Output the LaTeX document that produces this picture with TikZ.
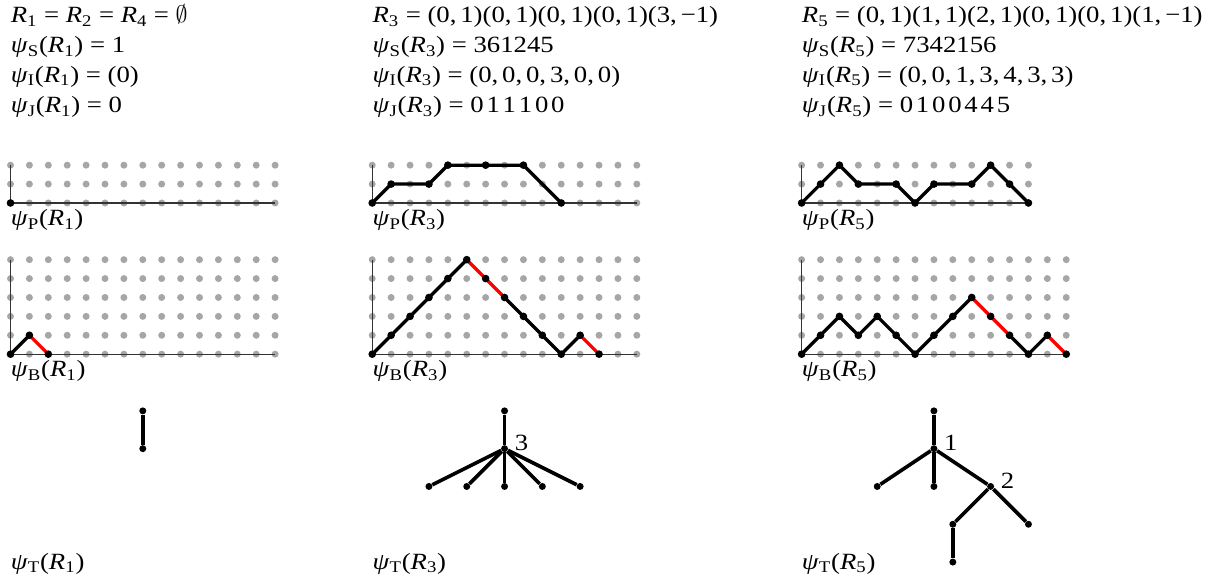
\documentclass[tikz,border=0pt]{standalone}
\usepackage{fontspec}
\setmainfont{Liberation Serif}[FakeStretch=1.15]

\newcommand{\Rw}[1]{\textit{R}\textsubscript{#1}}
\newcommand{\ps}[2]{\textit{ψ}\textsubscript{#1}(\Rw{#2})}
\newcommand{\dg}{\hspace{0.12em}}

\begin{document}
\begin{tikzpicture}[
    x=0.4cm, y=0.4cm,
    font=\fontsize{14}{17}\selectfont,
    txt/.style={anchor=base west, inner sep=0pt},
    axis/.style={line width=0.7pt, black!80},
    walk/.style={line width=2pt, line join=round, line cap=round},
    undo/.style={walk, draw=red},
    tnode/.style={circle, fill=black, minimum size=4.2pt, inner sep=0pt},
    branch/.style={line width=2.2pt},
    tlabel/.style={anchor=base west, inner sep=0pt, xshift=3.7pt, yshift=-1.2pt}
]

\def\cA{0}       % column origins
\def\cB{19.14}
\def\cC{41.86}
\def\rg{2.1pt}   % grey dot radius
\def\rb{2.3pt}   % black dot radius

\useasboundingbox (-0.556, 0.106) rectangle (64.42, 30.74);

% ── Top rows: words and their images ─────────────────────────────────────────
\node[txt] (rA) at (\cA, 29.55) {\Rw{1} = \Rw{2} = \Rw{4} = $\emptyset$};
\node[txt] (sA) at (\cA, 27.96) {\ps{S}{1} = 1};
\node[txt] (iA) at (\cA, 26.38) {\ps{I}{1} = (0)};
\node[txt] (jA) at (\cA, 24.79) {\ps{J}{1} = 0};

\node[txt] (rB) at (\cB, 29.55) {\Rw{3} = (0,\,1)(0,\,1)(0,\,1)(0,\,1)(3,\,−1)};
\node[txt] (sB) at (\cB, 27.96) {\ps{S}{3} = 361245};
\node[txt] (iB) at (\cB, 26.38) {\ps{I}{3} = (0,\,0,\,0,\,3,\,0,\,0)};
\node[txt] (jB) at (\cB, 24.79) {\ps{J}{3} = 0\dg1\dg1\dg1\dg0\dg0};

\node[txt] (rC) at (\cC, 29.55) {\Rw{5} = (0,\,1)(1,\,1)(2,\,1)(0,\,1)(0,\,1)(1,\,−1)};
\node[txt] (sC) at (\cC, 27.96) {\ps{S}{5} = 7342156};
\node[txt] (iC) at (\cC, 26.38) {\ps{I}{5} = (0,\,0,\,1,\,3,\,4,\,3,\,3)};
\node[txt] (jC) at (\cC, 24.79) {\ps{J}{5} = 0\dg1\dg0\dg0\dg4\dg4\dg5};

% ── Dot grids with axes ──────────────────────────────────────────────────────
\foreach \c/\w/\h/\yb in {\cA/14/2/20, \cB/14/2/20, \cC/12/2/20,
                          \cA/14/5/12, \cB/14/5/12, \cC/14/5/12} {
    \foreach \i in {0,...,\w}
        \foreach \j in {0,...,\h}
            \fill[black!35] (\c+\i, \yb+\j) circle (\rg);
    \draw[axis] (\c, \yb+\h) -- (\c, \yb) -- (\c+\w, \yb);
}

% ── psi_P paths ──────────────────────────────────────────────────────────────
\fill (\cA, 20) circle (\rb);

\begin{scope}[shift={(\cB,20)}]
    \draw[walk] (0,0) -- (1,1) -- (3,1) -- (4,2) -- (8,2) -- (10,0);
    \foreach \x/\y in {0/0, 1/1, 3/1, 4/2, 6/2, 8/2, 10/0}
        \fill (\x,\y) circle (\rb);
\end{scope}

\begin{scope}[shift={(\cC,20)}]
    \draw[walk] (0,0) -- (2,2) -- (3,1) -- (5,1) -- (6,0) -- (7,1) -- (9,1) -- (10,2) -- (12,0);
    \foreach \x/\y in {0/0, 1/1, 2/2, 3/1, 5/1, 6/0, 7/1, 9/1, 10/2, 11/1, 12/0}
        \fill (\x,\y) circle (\rb);
\end{scope}

% ── psi_B paths (red = down steps marked) ────────────────────────────────────
\begin{scope}[shift={(\cA,12)}]
    \draw[walk] (0,0) -- (1,1);
    \draw[undo] (1,1) -- (2,0);
    \foreach \x/\y in {0/0, 1/1, 2/0}
        \fill (\x,\y) circle (\rb);
\end{scope}

\begin{scope}[shift={(\cB,12)}]
    \draw[walk] (0,0) -- (5,5);
    \draw[undo] (5,5) -- (7,3);
    \draw[walk] (7,3) -- (10,0) -- (11,1);
    \draw[undo] (11,1) -- (12,0);
    \foreach \y [count=\x from 0] in {0,1,2,3,4,5,4,3,2,1,0,1,0}
        \fill (\x,\y) circle (\rb);
\end{scope}

\begin{scope}[shift={(\cC,12)}]
    \draw[walk] (0,0) -- (2,2) -- (3,1) -- (4,2) -- (6,0) -- (9,3);
    \draw[undo] (9,3) -- (11,1);
    \draw[walk] (11,1) -- (12,0) -- (13,1);
    \draw[undo] (13,1) -- (14,0);
    \foreach \y [count=\x from 0] in {0,1,2,1,2,1,0,1,2,3,2,1,0,1,0}
        \fill (\x,\y) circle (\rb);
\end{scope}

% ── Path labels ──────────────────────────────────────────────────────────────
\node[txt] (pA) at (\cA, 18.8) {\ps{P}{1}};
\node[txt] (pB) at (\cB, 18.8) {\ps{P}{3}};
\node[txt] (pC) at (\cC, 18.8) {\ps{P}{5}};
\node[txt] (bA) at (\cA, 10.8) {\ps{B}{1}};
\node[txt] (bB) at (\cB, 10.8) {\ps{B}{3}};
\node[txt] (bC) at (\cC, 10.8) {\ps{B}{5}};

% ── Trees ────────────────────────────────────────────────────────────────────
\node[tnode] (tA0) at (\cA+7, 9) {};
\node[tnode] (tA1) at (\cA+7, 7) {};
\draw[branch] (tA0) -- (tA1);

\node[tnode] (tB0) at (\cB+7, 9) {};
\node[tnode, label={[tlabel]0:3}] (tB1) at (\cB+7, 7) {};
\draw[branch] (tB0) -- (tB1);
\foreach \dx [count=\k] in {-4,-2,0,2,4} {
    \node[tnode] (tBl\k) at (\cB+7+\dx, 5) {};
    \draw[branch] (tB1) -- (tBl\k);
}

\node[tnode] (tC0) at (\cC+7, 9) {};
\node[tnode, label={[tlabel]0:1}] (tC1) at (\cC+7, 7) {};
\node[tnode] (tC2) at (\cC+4, 5) {};
\node[tnode] (tC3) at (\cC+7, 5) {};
\node[tnode, label={[tlabel]0:2}] (tC4) at (\cC+10, 5) {};
\node[tnode] (tC5) at (\cC+8, 3) {};
\node[tnode] (tC6) at (\cC+12, 3) {};
\node[tnode] (tC7) at (\cC+8, 1) {};
\draw[branch] (tC0) -- (tC1);
\draw[branch] (tC1) -- (tC2);
\draw[branch] (tC1) -- (tC3);
\draw[branch] (tC1) -- (tC4);
\draw[branch] (tC4) -- (tC5);
\draw[branch] (tC4) -- (tC6);
\draw[branch] (tC5) -- (tC7);

\node[txt] (tA) at (\cA, 0.63) {\ps{T}{1}};
\node[txt] (tB) at (\cB, 0.63) {\ps{T}{3}};
\node[txt] (tC) at (\cC, 0.63) {\ps{T}{5}};

\end{tikzpicture}
\end{document}
